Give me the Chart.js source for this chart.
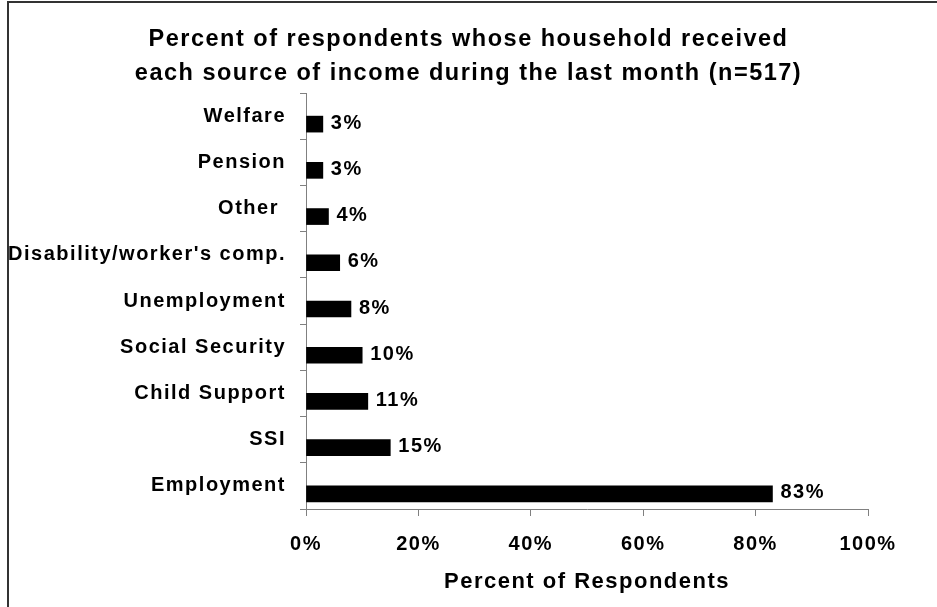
<!DOCTYPE html>
<html>
<head>
<meta charset="utf-8">
<script src="https://cdn.jsdelivr.net/npm/chart.js@4.4.1/dist/chart.umd.min.js"></script>
<style>
    html, body { margin: 0; padding: 0; background: #fff; }
    #wrap { position: relative; width: 937px; height: 607px; }
    #frame {
        position: absolute; left: 7px; top: 1px; right: 0; bottom: 0;
        border-top: 2px solid #333; border-left: 2px solid #333;
    }
    canvas { position: absolute; left: 0; top: 0; }
</style>
</head>
<body>
<div id="wrap">
    <div id="frame"></div>
    <canvas id="chart" width="937" height="607"></canvas>
</div>
<script>
const categories = [
    'Welfare',
    'Pension',
    'Other ',
    'Disability/worker\'s comp.',
    'Unemployment',
    'Social Security',
    'Child Support',
    'SSI',
    'Employment'
]
const percents = [3, 3, 4, 6, 8, 10, 11, 15, 83]
const xTicks = [0, 20, 40, 60, 80, 100]

const font = 'Liberation Sans, Arial, sans-serif'
const axisGray = '#808080'

// Excel-like letter spacing on all text
const spacing = {
    id: 'spacing',
    beforeLayout(chart) { chart.ctx.letterSpacing = '1.5px' },
    beforeDraw(chart) { chart.ctx.letterSpacing = '1.5px' }
}

// let the long category labels run into the left padding instead of being clipped
const unclipLabels = {
    id: 'unclipLabels',
    afterLayout(chart) { chart.scales.y.left = 0 }
}

const valueLabels = {
    id: 'valueLabels',
    afterDatasetsDraw(chart) {
        const ctx = chart.ctx
        const meta = chart.getDatasetMeta(1)
        ctx.save()
        ctx.font = 'bold 20px ' + font
        ctx.fillStyle = '#000'
        ctx.textAlign = 'left'
        ctx.textBaseline = 'middle'
        meta.data.forEach((bar, i) => {
            ctx.fillText(percents[i] + '%', bar.x + 8, bar.y - 1)
        })
        ctx.restore()
    }
}

new Chart(document.getElementById('chart'), {
    type: 'bar',
    data: {
        labels: categories,
        datasets: [
            // empty spacer so the bar sits below the label, as in the original
            { label: 'spacer', data: categories.map(() => null), backgroundColor: 'rgba(0,0,0,0)' },
            { label: 'Percent', data: percents, backgroundColor: '#000', borderWidth: 0 }
        ]
    },
    options: {
        indexAxis: 'y',
        responsive: false,
        animation: false,
        barThickness: 16,
        layout: { padding: { top: 0, left: 69, right: 69, bottom: 0 } },
        scales: {
            x: {
                min: 0,
                max: 100,
                afterBuildTicks: (scale) => { scale.ticks = xTicks.map(v => ({ value: v })) },
                afterFit: (scale) => { scale.height = 98 },
                ticks: {
                    color: '#000',
                    padding: 16,
                    font: { family: font, size: 20, weight: 'bold' },
                    callback: (v) => v + '%',
                    maxRotation: 0
                },
                grid: { drawOnChartArea: false, color: axisGray, tickLength: 7 },
                border: { color: axisGray },
                title: {
                    display: true,
                    text: 'Percent of Respondents',
                    color: '#000',
                    font: { family: font, size: 22, weight: 'bold' },
                    padding: { top: 0, bottom: 12 }
                }
            },
            y: {
                afterFit: (scale) => { scale.width = 237 },
                ticks: {
                    color: '#000',
                    padding: 14,
                    font: { family: font, size: 20, weight: 'bold' }
                },
                grid: { drawOnChartArea: false, offset: true, color: axisGray, tickLength: 6 },
                border: { color: axisGray }
            }
        },
        plugins: {
            legend: { display: false },
            tooltip: { enabled: false },
            title: {
                display: true,
                text: [
                    'Percent of respondents whose household received',
                    'each source of income during the last month (n=517)'
                ],
                color: '#000',
                font: { family: font, size: 23.5, weight: 'bold', lineHeight: 1.447 },
                padding: { top: 23, bottom: 2 }
            }
        }
    },
    plugins: [spacing, unclipLabels, valueLabels]
})
</script>
</body>
</html>
